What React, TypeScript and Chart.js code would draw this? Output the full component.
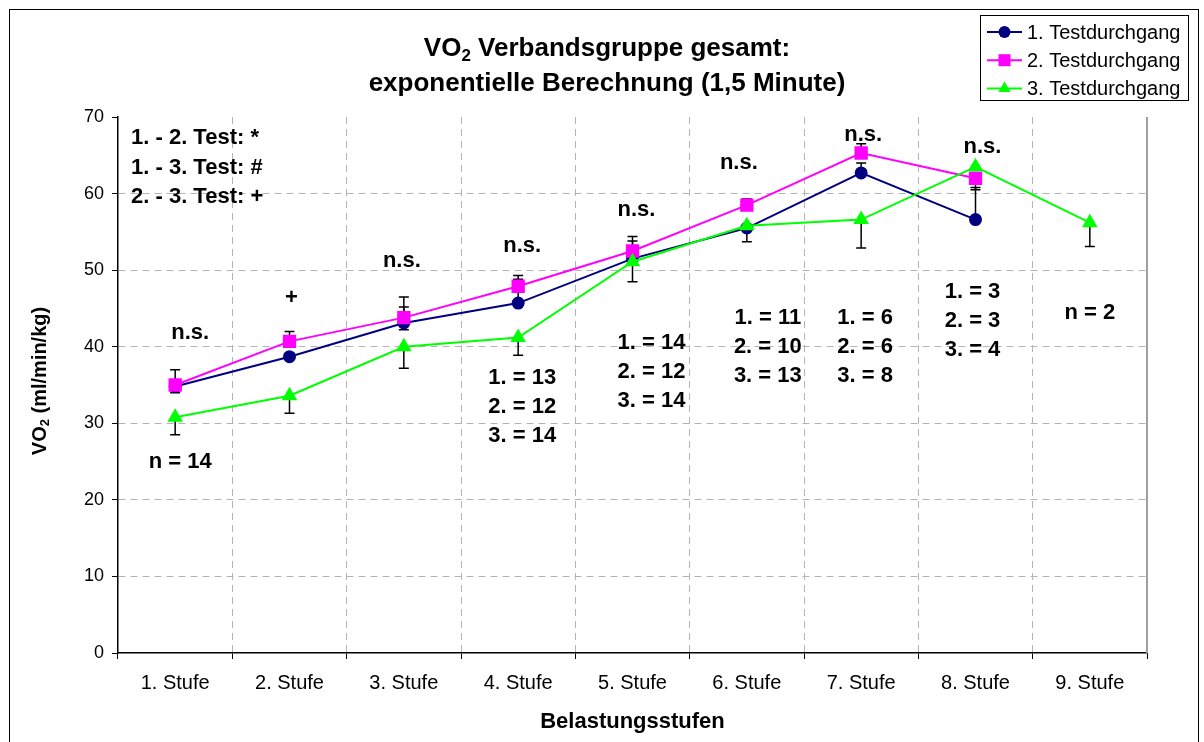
import { useEffect, useRef } from "react";
import { Chart, registerables } from "chart.js";

Chart.register(...registerables);

const FAM = '"Liberation Sans", Arial, Helvetica, sans-serif';

const categories = ["1. Stufe", "2. Stufe", "3. Stufe", "4. Stufe", "5. Stufe", "6. Stufe", "7. Stufe", "8. Stufe", "9. Stufe"];
const yTicks = [0, 10, 20, 30, 40, 50, 60, 70];

const test1 = [34.8, 38.7, 43.1, 45.7, 51.5, 55.5, 62.7, 56.6, null];
const test2 = [35.0, 40.7, 43.8, 47.9, 52.5, 58.5, 65.3, 62.0, null];
const test3 = [30.8, 33.6, 40.0, 41.2, 51.1, 55.8, 56.6, 63.5, 56.2];

const test1Plus = [0, 0, 2.1, 3.1, 2.3, 0, 1.3, 4.2, 0];
const test1Minus = [0.8, 0, 0.9, 0, 0, 0, 0, 0, 0];
const test2Plus = [2.0, 1.3, 2.7, 1.4, 1.9, 0.8, 1.2, 0, 0];
const test2Minus = [0, 0, 0, 0, 0, 0, 0, 1.5, 0];
const test3Plus = [0, 0, 0, 0, 0, 0, 0, 0, 0];
const test3Minus = [2.3, 2.3, 2.8, 2.3, 2.6, 2.1, 3.7, 0, 3.1];

const seriesNames = ["1. Testdurchgang", "2. Testdurchgang", "3. Testdurchgang"];
const seriesColors = ["#000080", "#FF00FF", "#00FF00"];

const sigLabels = ["n.s.", "+", "n.s.", "n.s.", "n.s.", "n.s.", "n.s.", "n.s.", ""];
const sigLegend = ["1. - 2. Test: *", "1. - 3. Test: #", "2. - 3. Test: +"];
const countLabels = [
  ["n = 14"],
  [],
  [],
  ["1. = 13", "2. = 12", "3. = 14"],
  ["1. = 14", "2. = 12", "3. = 14"],
  ["1. = 11", "2. = 10", "3. = 13"],
  ["1. = 6", "2. = 6", "3. = 8"],
  ["1. = 3", "2. = 3", "3. = 4"],
  ["n = 2"],
];

// placement of annotation texts (value units / pixel offsets from category centres)
const sigPos = { y: [41.8, 46.4, 51.2, 53.2, 57.9, 64.0, 67.6, 66.1, 0], dx: [15, 2, -2, 4, 4, -8, 2, 7, 0] };
const countPos = { y: [24.9, 0, 0, 35.9, 40.5, 43.75, 43.75, 47.1, 44.4], dx: [5, 0, 0, 4, 19, 21, 4, -3, 0] };
const sigLegendY = [67.3, 63.3, 59.6];

function drawMarker(ctx: CanvasRenderingContext2D, style: string, x: number, y: number, color: string) {
  ctx.fillStyle = color;
  ctx.beginPath();
  if (style === "circle") {
    ctx.arc(x, y, 6, 0, Math.PI * 2);
  } else if (style === "rect") {
    ctx.rect(x - 6, y - 6, 12, 12);
  } else {
    const r = 7;
    ctx.moveTo(x, y - r);
    ctx.lineTo(x + r * 0.866, y + r / 2);
    ctx.lineTo(x - r * 0.866, y + r / 2);
    ctx.closePath();
  }
  ctx.fill();
}

function drawSubText(
  ctx: CanvasRenderingContext2D,
  before: string,
  after: string,
  size: number,
  cx: number,
  cy: number
) {
  const big = `bold ${size}px ${FAM}`;
  const small = `bold ${Math.round(size * 0.65)}px ${FAM}`;
  ctx.font = big;
  const w1 = ctx.measureText(before).width;
  const w3 = ctx.measureText(after).width;
  ctx.font = small;
  const w2 = ctx.measureText("2").width;
  let x = cx - (w1 + w2 + w3) / 2;
  ctx.textAlign = "left";
  ctx.textBaseline = "middle";
  ctx.font = big;
  ctx.fillText(before, x, cy);
  x += w1;
  ctx.font = small;
  ctx.fillText("2", x, cy + size * 0.28);
  x += w2;
  ctx.font = big;
  ctx.fillText(after, x, cy);
}

const errorSets = [
  { values: test1, plus: test1Plus, minus: test1Minus },
  { values: test2, plus: test2Plus, minus: test2Minus },
  { values: test3, plus: test3Plus, minus: test3Minus },
];

const overlayPlugin = {
  id: "overlay",
  beforeDatasetsDraw(chart: any) {
    const { ctx, chartArea, scales } = chart;
    const xs = scales.x;
    const ys = scales.y;
    ctx.save();
    // right plot border
    ctx.strokeStyle = "#a0a0a0";
    ctx.lineWidth = 2;
    ctx.beginPath();
    ctx.moveTo(chartArea.right, chartArea.top);
    ctx.lineTo(chartArea.right, chartArea.bottom);
    ctx.stroke();
    // error bars
    ctx.strokeStyle = "#000";
    ctx.lineWidth = 1.5;
    errorSets.forEach(({ values, plus, minus }) => {
      values.forEach((v, i) => {
        if (v == null) return;
        const px = xs.getPixelForValue(i);
        const bar = (d: number) => {
          const y0 = ys.getPixelForValue(v);
          const y1 = ys.getPixelForValue(v + d);
          ctx.beginPath();
          ctx.moveTo(px, y0);
          ctx.lineTo(px, y1);
          ctx.moveTo(px - 5, y1);
          ctx.lineTo(px + 5, y1);
          ctx.stroke();
        };
        if (plus[i]) bar(plus[i]);
        if (minus[i]) bar(-minus[i]);
      });
    });
    ctx.restore();
  },
  afterDraw(chart: any) {
    const { ctx, chartArea, scales } = chart;
    const xs = scales.x;
    const ys = scales.y;
    ctx.save();
    // outer frame
    ctx.strokeStyle = "#000";
    ctx.lineWidth = 1;
    ctx.strokeRect(9.5, 9.5, 1189, 800);

    ctx.fillStyle = "#000";
    // title
    drawSubText(ctx, "VO", " Verbandsgruppe gesamt:", 26, 607, 49);
    ctx.font = `bold 26px ${FAM}`;
    ctx.textAlign = "center";
    ctx.textBaseline = "middle";
    ctx.fillText("exponentielle Berechnung (1,5 Minute)", 607, 84);

    // axis titles
    ctx.save();
    ctx.translate(40, 381);
    ctx.rotate(-Math.PI / 2);
    drawSubText(ctx, "VO", " (ml/min/kg)", 20, 0, 0);
    ctx.restore();
    ctx.font = `bold 22px ${FAM}`;
    ctx.textAlign = "center";
    ctx.textBaseline = "middle";
    ctx.fillText("Belastungsstufen", (chartArea.left + chartArea.right) / 2, 722);

    // annotations
    ctx.font = `bold 22px ${FAM}`;
    sigLabels.forEach((t, i) => {
      if (!t) return;
      ctx.fillText(t, xs.getPixelForValue(i) + sigPos.dx[i], ys.getPixelForValue(sigPos.y[i]));
    });
    countLabels.forEach((lines, i) => {
      lines.forEach((t, k) => {
        ctx.fillText(t, xs.getPixelForValue(i) + countPos.dx[i], ys.getPixelForValue(countPos.y[i]) + k * 29);
      });
    });
    ctx.textAlign = "left";
    sigLegend.forEach((t, k) => {
      ctx.fillText(t, chartArea.left + 13, ys.getPixelForValue(sigLegendY[k]));
    });

    // legend
    ctx.fillStyle = "#fff";
    ctx.fillRect(980.5, 15.5, 208, 85);
    ctx.strokeStyle = "#000";
    ctx.lineWidth = 1;
    ctx.strokeRect(980.5, 15.5, 208, 85);
    const styles = ["circle", "rect", "triangle"];
    seriesNames.forEach((name, k) => {
      const ly = 32 + k * 28.2;
      ctx.strokeStyle = seriesColors[k];
      ctx.lineWidth = 2;
      ctx.beginPath();
      ctx.moveTo(987, ly);
      ctx.lineTo(1022, ly);
      ctx.stroke();
      drawMarker(ctx, styles[k], 1004.5, ly, seriesColors[k]);
      ctx.fillStyle = "#000";
      ctx.font = `20px ${FAM}`;
      ctx.textAlign = "left";
      ctx.textBaseline = "middle";
      ctx.fillText(name, 1027, ly + 1);
    });
    ctx.restore();
  },
};

export default function App() {
  const ref = useRef<HTMLCanvasElement | null>(null);
  useEffect(() => {
    if (!ref.current) return;
    const gridGray = "#b4b4b4";
    const chart = new Chart(ref.current, {
      type: "line",
      data: {
        labels: categories,
        datasets: [
          {
            label: seriesNames[0],
            data: test1,
            borderColor: seriesColors[0],
            backgroundColor: seriesColors[0],
            pointBackgroundColor: seriesColors[0],
            pointBorderColor: seriesColors[0],
            pointStyle: "circle",
            pointRadius: 5.5,
            borderWidth: 2,
            tension: 0,
            order: 2,
          },
          {
            label: seriesNames[1],
            data: test2,
            borderColor: seriesColors[1],
            backgroundColor: seriesColors[1],
            pointBackgroundColor: seriesColors[1],
            pointBorderColor: seriesColors[1],
            pointStyle: "rect",
            pointRadius: 8,
            borderWidth: 2,
            tension: 0,
            order: 1,
          },
          {
            label: seriesNames[2],
            data: test3,
            borderColor: seriesColors[2],
            backgroundColor: seriesColors[2],
            pointBackgroundColor: seriesColors[2],
            pointBorderColor: seriesColors[2],
            pointStyle: "triangle",
            pointRadius: 7,
            borderWidth: 2,
            tension: 0,
            order: 0,
          },
        ],
      },
      options: {
        responsive: false,
        animation: false,
        devicePixelRatio: 1,
        layout: { padding: { left: 0, right: 57, top: 117, bottom: 0 } },
        plugins: {
          legend: { display: false },
          title: { display: false },
          tooltip: { enabled: false },
        },
        scales: {
          x: {
            type: "category",
            offset: true,
            grid: {
              offset: true,
              color: gridGray,
              lineWidth: 1,
              tickColor: "#000",
              tickLength: 6,
            },
            border: { display: true, color: "#000", width: 1.5, dash: [7, 5] },
            ticks: {
              color: "#000",
              font: { family: FAM, size: 20 },
              padding: 12,
              maxRotation: 0,
              autoSkip: false,
            },
            afterFit(scale: any) {
              scale.height = 89;
            },
          },
          y: {
            min: 0,
            max: 70,
            afterBuildTicks(scale: any) {
              scale.ticks = yTicks.map((v) => ({ value: v }));
            },
            grid: {
              color: (c: any) => (c.tick && (c.tick.value === 0 || c.tick.value === 70) ? "rgba(0,0,0,0)" : gridGray),
              lineWidth: 1,
              tickColor: "#000",
              tickLength: 6,
            },
            border: { display: true, color: "#000", width: 1.5, dash: [7, 5] },
            ticks: {
              color: "#000",
              font: { family: FAM, size: 18 },
              padding: 8,
            },
            afterFit(scale: any) {
              scale.width = 118;
            },
          },
        },
      },
      plugins: [overlayPlugin],
    });
    return () => chart.destroy();
  }, []);
  return (
    <div style={{ position: "fixed", left: 0, top: 0, width: 1204, height: 742, background: "#fff" }}>
      <canvas ref={ref} width={1204} height={742} style={{ display: "block" }} />
    </div>
  );
}
